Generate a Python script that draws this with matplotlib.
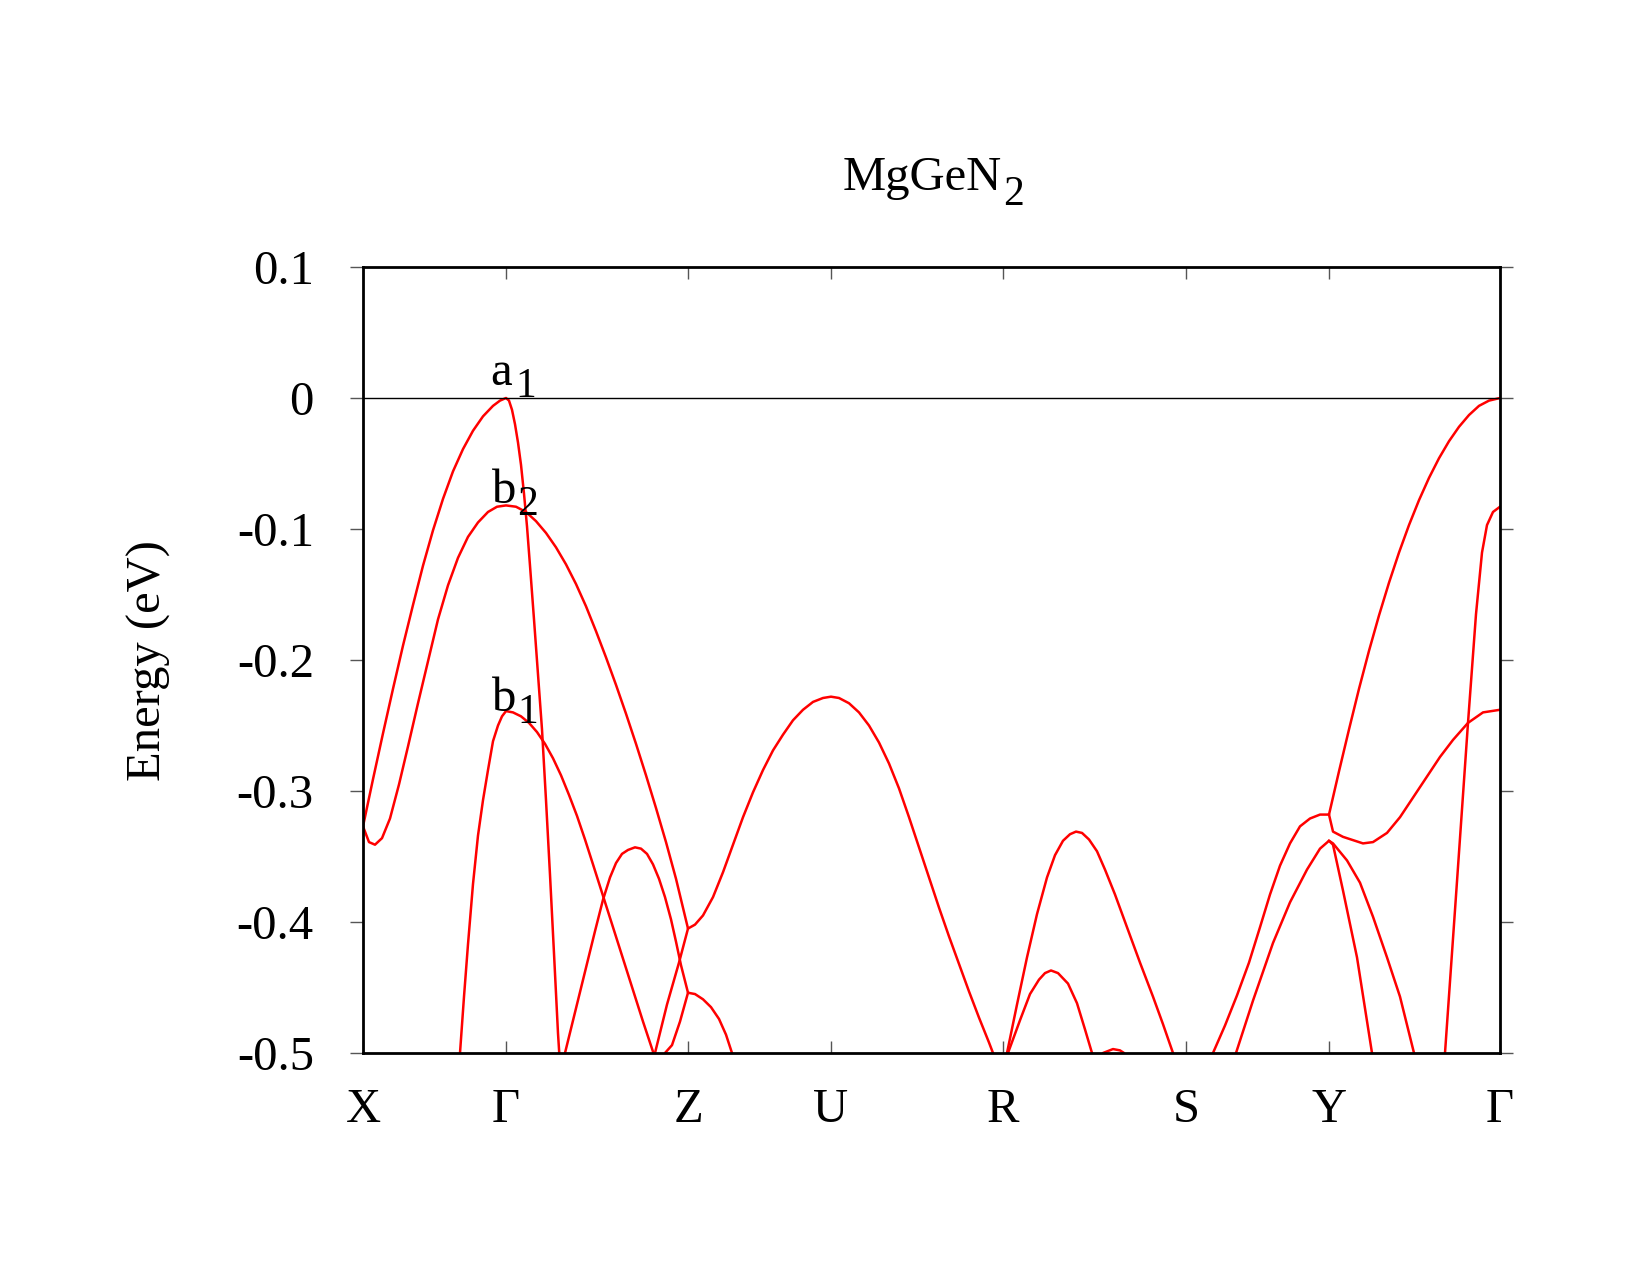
import matplotlib.pyplot as plt
from matplotlib.ticker import FixedLocator, FixedFormatter

plt.rcParams['font.family'] = ['Liberation Serif', 'DejaVu Serif']
plt.rcParams['axes.unicode_minus'] = False

# High-symmetry points along the k-path
kpath_pos = [0.000, 0.143, 0.325, 0.468, 0.640, 0.823, 0.966, 1.137]
kpath_labels = ['X', 'Γ', 'Z', 'U', 'R', 'S', 'Y', 'Γ']

energy_ticks = [0.1, 0.0, -0.1, -0.2, -0.3, -0.4, -0.5]
energy_labels = ['0.1', '0', '-0.1', '-0.2', '-0.3', '-0.4', '-0.5']

# Band branches as (k, E[eV]) pairs
band_a1 = [(0.000, -0.327), (0.010, -0.291), (0.020, -0.256), (0.030, -0.222), (0.040, -0.189),
           (0.050, -0.158), (0.060, -0.128), (0.070, -0.101), (0.080, -0.077), (0.090, -0.056),
           (0.100, -0.039), (0.110, -0.025), (0.120, -0.014), (0.130, -0.006), (0.137, -0.002),
           (0.143, 0.000), (0.146, -0.002), (0.149, -0.009), (0.152, -0.020), (0.155, -0.034),
           (0.158, -0.051), (0.161, -0.073), (0.164, -0.098), (0.167, -0.128), (0.171, -0.169),
           (0.175, -0.211), (0.179, -0.253), (0.183, -0.307), (0.187, -0.364), (0.191, -0.424),
           (0.195, -0.485), (0.198, -0.521)]

band_b2 = [(0.000, -0.327), (0.006, -0.339), (0.012, -0.341), (0.019, -0.336), (0.027, -0.321),
           (0.036, -0.295), (0.045, -0.266), (0.055, -0.233), (0.065, -0.201), (0.075, -0.169),
           (0.085, -0.143), (0.095, -0.122), (0.105, -0.106), (0.115, -0.095), (0.125, -0.087),
           (0.134, -0.083), (0.143, -0.082), (0.153, -0.083), (0.163, -0.087), (0.173, -0.094),
           (0.183, -0.103), (0.193, -0.114), (0.203, -0.127), (0.213, -0.142), (0.223, -0.159),
           (0.233, -0.178), (0.243, -0.198), (0.253, -0.219), (0.263, -0.241), (0.273, -0.264),
           (0.283, -0.288), (0.293, -0.313), (0.303, -0.339), (0.313, -0.367), (0.325, -0.405),
           (0.332, -0.402), (0.340, -0.395), (0.350, -0.381), (0.360, -0.362), (0.370, -0.341),
           (0.380, -0.320), (0.390, -0.301), (0.400, -0.284), (0.410, -0.269), (0.420, -0.257),
           (0.430, -0.246), (0.440, -0.238), (0.450, -0.232), (0.460, -0.229), (0.468, -0.228),
           (0.476, -0.229), (0.486, -0.233), (0.496, -0.240), (0.506, -0.250), (0.516, -0.263),
           (0.526, -0.279), (0.536, -0.298), (0.546, -0.320), (0.556, -0.343), (0.566, -0.366),
           (0.576, -0.389), (0.586, -0.411), (0.596, -0.432), (0.606, -0.453), (0.616, -0.473),
           (0.626, -0.492), (0.630, -0.500), (0.637, -0.513)]

band_b1 = [(0.095, -0.520), (0.097, -0.500), (0.101, -0.457), (0.105, -0.417), (0.110, -0.371),
           (0.115, -0.334), (0.120, -0.307), (0.125, -0.284), (0.130, -0.262), (0.135, -0.250),
           (0.139, -0.243), (0.143, -0.239), (0.150, -0.240), (0.158, -0.243), (0.166, -0.248),
           (0.174, -0.255), (0.182, -0.264), (0.190, -0.275), (0.198, -0.288), (0.206, -0.303),
           (0.214, -0.319), (0.222, -0.337), (0.230, -0.356), (0.240, -0.380), (0.250, -0.404),
           (0.260, -0.428), (0.270, -0.452), (0.280, -0.476), (0.290, -0.499), (0.293, -0.507)]

band_gz_hump = [(0.199, -0.512), (0.202, -0.500), (0.212, -0.469), (0.222, -0.438), (0.232, -0.407),
                (0.240, -0.383), (0.247, -0.366), (0.253, -0.355), (0.259, -0.348), (0.265, -0.345),
                (0.272, -0.343), (0.278, -0.344), (0.284, -0.348), (0.290, -0.356), (0.296, -0.367),
                (0.302, -0.381), (0.308, -0.398), (0.313, -0.415), (0.318, -0.433), (0.325, -0.454),
                (0.332, -0.455), (0.340, -0.459), (0.348, -0.465), (0.356, -0.474), (0.363, -0.486),
                (0.369, -0.500), (0.373, -0.511)]

band_z_upper = [(0.289, -0.513), (0.292, -0.500), (0.304, -0.463), (0.316, -0.431), (0.325, -0.405)]

band_z_lower = [(0.300, -0.509), (0.302, -0.500), (0.309, -0.494), (0.317, -0.476), (0.325, -0.454)]

band_r_big = [(0.642, -0.509), (0.644, -0.500), (0.654, -0.463), (0.664, -0.427), (0.674, -0.394),
              (0.684, -0.366), (0.692, -0.349), (0.700, -0.338), (0.707, -0.333), (0.713, -0.331),
              (0.719, -0.332), (0.726, -0.337), (0.734, -0.346), (0.742, -0.360), (0.752, -0.379),
              (0.764, -0.404), (0.777, -0.431), (0.790, -0.457), (0.800, -0.478), (0.810, -0.500),
              (0.813, -0.510)]

band_r_small = [(0.643, -0.509), (0.645, -0.500), (0.657, -0.475), (0.667, -0.455), (0.676, -0.444),
                (0.682, -0.439), (0.688, -0.437), (0.695, -0.439), (0.705, -0.447), (0.714, -0.462),
                (0.722, -0.482), (0.729, -0.500), (0.732, -0.510)]

band_rs_bump = [(0.737, -0.505), (0.740, -0.500), (0.750, -0.497), (0.757, -0.498), (0.761, -0.500),
                (0.764, -0.505)]

band_sy_upper = [(0.846, -0.509), (0.850, -0.500), (0.862, -0.479), (0.874, -0.456), (0.886, -0.431),
                 (0.897, -0.404), (0.907, -0.379), (0.917, -0.357), (0.927, -0.340), (0.937, -0.327),
                 (0.947, -0.321), (0.957, -0.318), (0.966, -0.318), (0.976, -0.285), (0.986, -0.253),
                 (0.996, -0.222), (1.006, -0.193), (1.016, -0.166), (1.026, -0.141), (1.036, -0.118),
                 (1.046, -0.097), (1.056, -0.078), (1.066, -0.061), (1.076, -0.046), (1.086, -0.033),
                 (1.096, -0.022), (1.106, -0.013), (1.116, -0.006), (1.126, -0.002), (1.137, 0.000)]

band_sy_lower = [(0.870, -0.509), (0.873, -0.500), (0.890, -0.460), (0.910, -0.416), (0.927, -0.385),
                 (0.944, -0.360), (0.957, -0.344), (0.966, -0.338), (0.970, -0.341), (0.980, -0.376),
                 (0.994, -0.427), (1.009, -0.500), (1.012, -0.520)]

band_yg_curve = [(0.966, -0.338), (0.970, -0.340), (0.984, -0.353), (0.997, -0.370), (1.010, -0.396),
                 (1.024, -0.427), (1.037, -0.457), (1.051, -0.500), (1.054, -0.515)]

band_yg_b1 = [(0.966, -0.318), (0.970, -0.331), (0.980, -0.335), (1.000, -0.340), (1.010, -0.339),
              (1.024, -0.332), (1.037, -0.320), (1.057, -0.297), (1.077, -0.274), (1.090, -0.261),
              (1.105, -0.248), (1.120, -0.240), (1.137, -0.238)]

band_yg_b2 = [(1.079, -0.530), (1.082, -0.500), (1.094, -0.369), (1.105, -0.248), (1.113, -0.165),
              (1.119, -0.118), (1.124, -0.097), (1.130, -0.087), (1.137, -0.083)]

all_bands = [band_a1, band_b2, band_b1, band_gz_hump, band_z_upper, band_z_lower,
             band_r_big, band_r_small, band_rs_bump, band_sy_upper, band_sy_lower,
             band_yg_curve, band_yg_b1, band_yg_b2]

# band labels: (main letter, subscript, k, E)
band_labels = [('a', '1', 0.127, 0.010), ('b', '2', 0.129, -0.080), ('b', '1', 0.129, -0.239)]

fig = plt.figure(figsize=(16.5, 12.75), dpi=100)
ax = fig.add_axes([363 / 1650, 1 - 1053 / 1275, 1137 / 1650, 786 / 1275])

for band in all_bands:
    k, e = zip(*band)
    ax.plot(k, e, color='#ff0000', lw=1.8, solid_joinstyle='round')

ax.axhline(0.0, color='black', lw=1.0)

ax.set_xlim(kpath_pos[0], kpath_pos[-1])
ax.set_ylim(-0.5, 0.1)

ax.xaxis.set_major_locator(FixedLocator(kpath_pos))
ax.xaxis.set_major_formatter(FixedFormatter(kpath_labels))
ax.yaxis.set_major_locator(FixedLocator(energy_ticks))
ax.yaxis.set_major_formatter(FixedFormatter(energy_labels))

ax.tick_params(axis='x', direction='in', length=8.6, width=1.0, color='#555555',
               top=True, labelsize=35, pad=25)
ax.tick_params(axis='y', direction='out', length=9.4, width=1.0, color='#555555',
               right=True, labelsize=35, pad=26)
for sp in ax.spines.values():
    sp.set_linewidth(2.0)

for main, sub, k, e in band_labels:
    ax.text(k, e, main, fontsize=35, ha='left', va='baseline')
    ax.annotate(sub, (k, e), xytext=(18, -8.6), textcoords='offset points',
                fontsize=30, ha='left', va='baseline')

# title with a gnuplot-like subscript
fig.text(1002 / 1650, 1 - 190 / 1275, 'MgGeN', fontsize=35, ha='right', va='baseline')
fig.text(1003 / 1650, 1 - 205 / 1275, '2', fontsize=30, ha='left', va='baseline')

fig.text(149 / 1650, 1 - 661 / 1275, 'Energy (eV)', fontsize=35, rotation=90,
         ha='center', va='center')

fig.savefig('out.png', dpi=100)
